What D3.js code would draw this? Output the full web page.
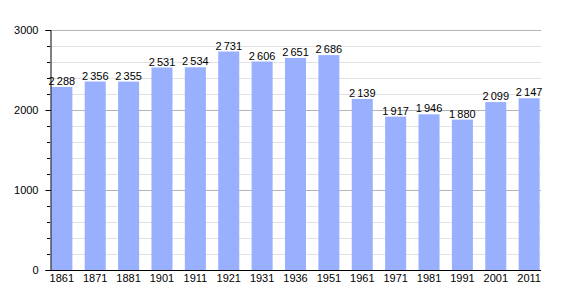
<!DOCTYPE html>
<html>
<head>
	<title> population </title>
	<script src="https://d3js.org/d3.v7.min.js"></script>
	<style>
		body { margin: 0; background: #fff; }
		text { font-family: "Liberation Sans", Arial, sans-serif; }
	</style>
</head>
<body>
	<svg width="570" height="300"></svg>
	<script type="text/javascript">
		let years = ["1861","1871","1881","1901","1911","1921","1931","1936","1951","1961","1971","1981","1991","2001","2011"];
		let population = [2288, 2356, 2355, 2531, 2534, 2731, 2606, 2651, 2686, 2139, 1917, 1946, 1880, 2099, 2147];
		let yTicks = [0, 1000, 2000, 3000];

		let svg = d3.select("svg");
		let mLeft = 50, mRight = 541, mTop = 30, mBottom = 270;

		let x = d3.scaleBand().domain(years).range([mLeft, mRight]).paddingInner(0.37).paddingOuter(0.04);
		let y = d3.scaleLinear().domain([0, 3000]).range([mBottom, mTop]);

		// minor grid
		let minor = d3.range(200, 3000, 200).filter(d => d % 1000 != 0);
		svg.append("g").selectAll("line").data(minor).join("line")
			.attr("x1", mLeft).attr("x2", mRight)
			.attr("y1", d => y(d) + 0.5).attr("y2", d => y(d) + 0.5)
			.attr("stroke", "#e2e2e2").attr("stroke-width", 1);
		// major grid
		svg.append("g").selectAll("line").data(yTicks.slice(1)).join("line")
			.attr("x1", mLeft).attr("x2", mRight)
			.attr("y1", d => y(d) + 0.5).attr("y2", d => y(d) + 0.5)
			.attr("stroke", "#b4b4b4").attr("stroke-width", 1);

		// bars
		svg.append("g").selectAll("rect").data(population).join("rect")
			.attr("x", (d, i) => x(years[i]))
			.attr("y", d => y(d))
			.attr("width", x.bandwidth())
			.attr("height", d => y(0) - y(d))
			.attr("fill", "#99b0ff");

		// labels
		let fmt = d => d3.format(",")(d).replace(",", "\u2009");
		svg.append("g").selectAll("text").data(population).join("text")
			.attr("x", (d, i) => x(years[i]) + x.bandwidth() / 2)
			.attr("y", d => y(d) - 2)
			.attr("text-anchor", "middle")
			.attr("font-size", 11)
			.attr("fill", "#000")
			.text(fmt);

		// y axis
		let yAxis = d3.axisLeft(y).tickValues(yTicks).tickSize(5).tickPadding(7).tickFormat(d3.format("d"));
		let gy = svg.append("g").attr("transform", "translate(" + (mLeft + 0.5) + ",0)").call(yAxis);
		gy.select(".domain").attr("stroke", "#000");
		gy.selectAll("text").attr("font-size", 11).attr("font-family", "Liberation Sans, Arial, sans-serif");
		svg.append("g").selectAll("line").data(minor).join("line")
			.attr("x1", mLeft - 3).attr("x2", mLeft)
			.attr("y1", d => y(d) + 0.5).attr("y2", d => y(d) + 0.5)
			.attr("stroke", "#000");

		// x axis
		let xAxis = d3.axisBottom(x).tickSize(0).tickPadding(4);
		let gx = svg.append("g").attr("transform", "translate(0," + (mBottom + 0.5) + ")").call(xAxis);
		gx.select(".domain").attr("stroke", "#000").attr("d", "M" + mLeft + ",0H" + mRight);
		gx.selectAll("text").attr("font-size", 11).attr("font-family", "Liberation Sans, Arial, sans-serif");
	</script>
</body>
</html>
